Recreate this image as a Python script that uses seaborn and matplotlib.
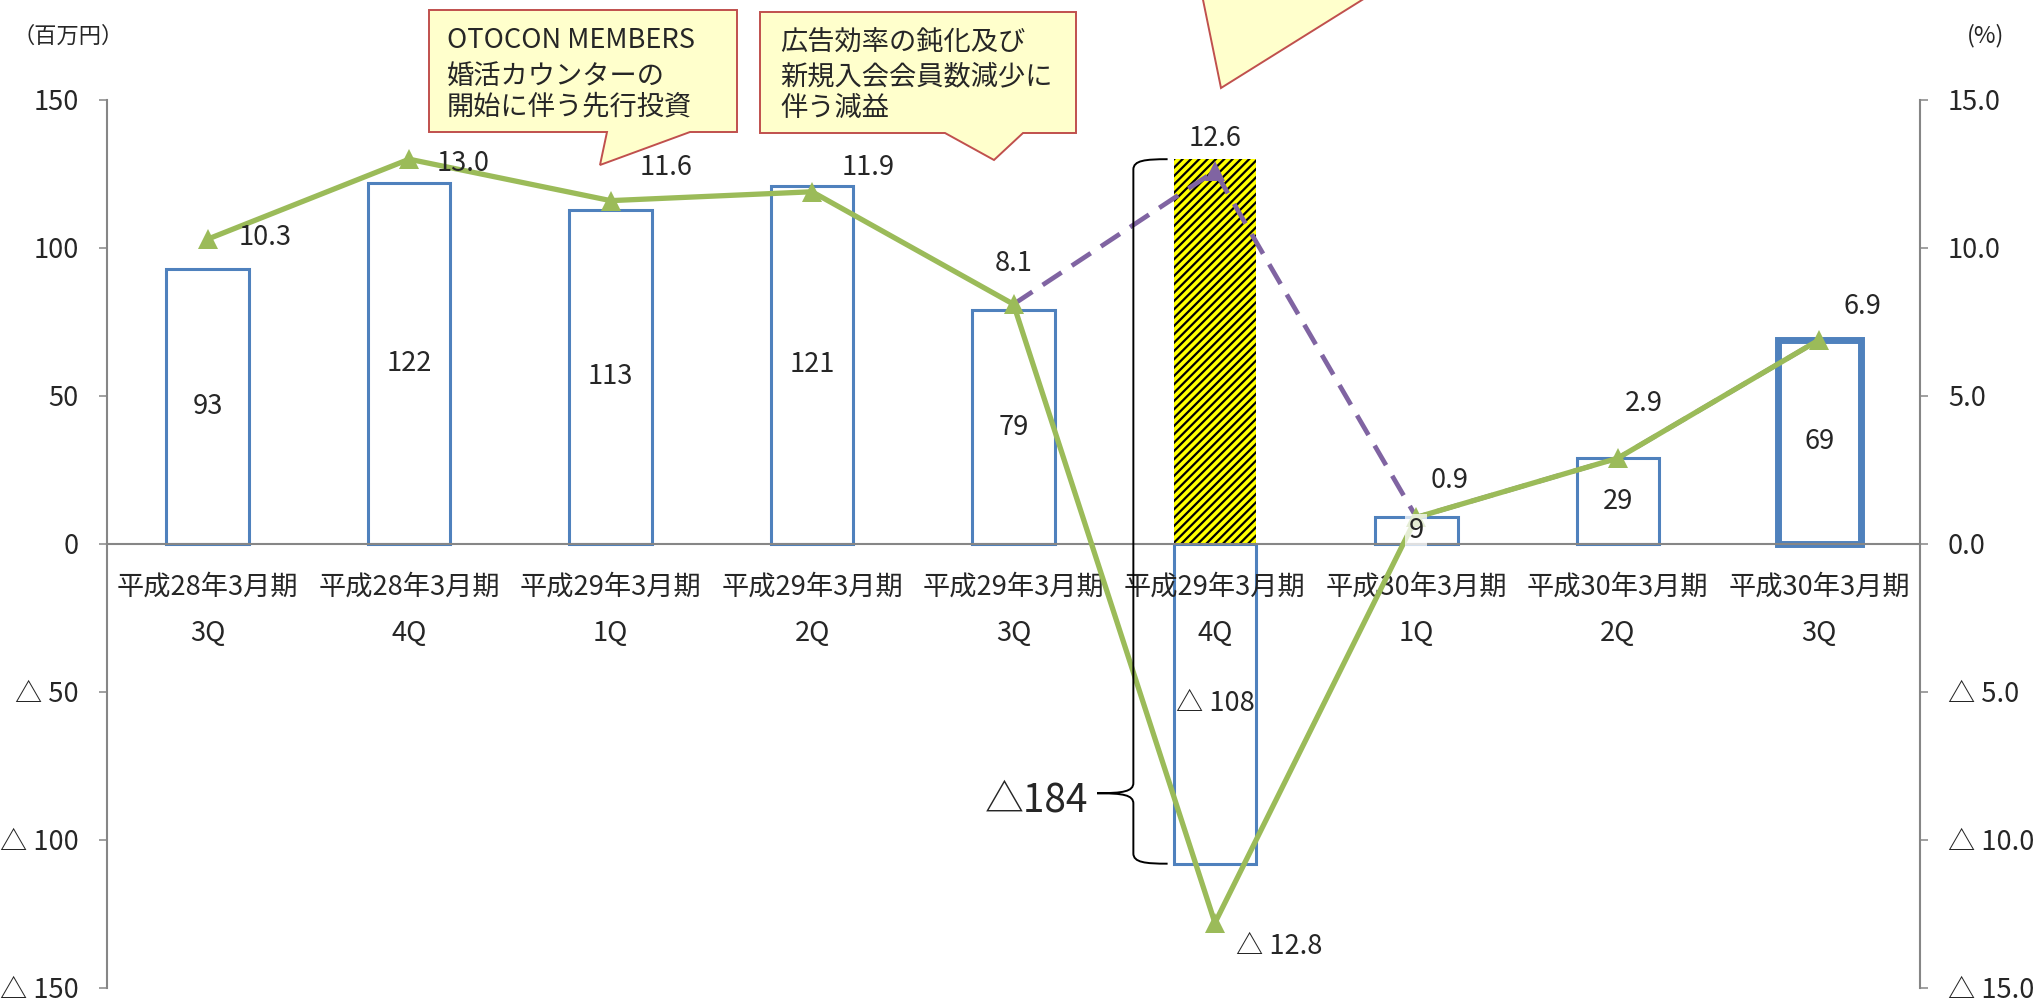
import numpy as np
import pandas as pd
import matplotlib
matplotlib.use("Agg")
import matplotlib.pyplot as plt
import seaborn as sns
from matplotlib.patches import Polygon, PathPatch
from matplotlib.path import Path
from matplotlib.ticker import FuncFormatter

# ---- data -------------------------------------------------------------
periods = ["平成28年3月期", "平成28年3月期", "平成29年3月期", "平成29年3月期",
           "平成29年3月期", "平成29年3月期", "平成30年3月期", "平成30年3月期",
           "平成30年3月期"]
quarters = ["3Q", "4Q", "1Q", "2Q", "3Q", "4Q", "1Q", "2Q", "3Q"]
operating_profit = [93, 122, 113, 121, 79, -108, 9, 29, 69]          # 百万円
adjusted_profit_4q = 130                                             # 4Q before one-off items
margin = [10.3, 13.0, 11.6, 11.9, 8.1, -12.8, 0.9, 2.9, 6.9]          # %
margin_adjusted = [None, None, None, None, 8.1, 12.6, 0.9, 2.9, 6.9]  # %
swing_label = "△184"
note_investment = ["OTOCON MEMBERS", "婚活カウンターの", "開始に伴う先行投資"]
note_decline = ["広告効率の鈍化及び", "新規入会会員数減少に", "伴う減益"]

# ---- style ------------------------------------------------------------
BLUE = "#4F81BD"
GREEN = "#9BBB59"
PURPLE = "#8064A2"
GRAY = "#868686"
NOTE_FACE = "#FFFFCC"
NOTE_EDGE = "#C0504D"
FS = 19.6

sns.set_style("white")
plt.rcParams["font.family"] = ["Noto Sans CJK JP", "DejaVu Sans"]
plt.rcParams["hatch.linewidth"] = 1.6

W, H = 2043, 1000
fig = plt.figure(figsize=(W / 100, H / 100), dpi=100)
ax = fig.add_axes([107 / W, 1 - 988 / H, (1920 - 107) / W, (988 - 100) / H])


def fig_xy(px, py):
    return px / W, 1 - py / H


x_idx = np.arange(len(operating_profit))
bar_w = 0.41
adj_idx = quarters.index("4Q", 2)

# ---- bars (left axis) ---------------------------------------------------
bars_df = pd.DataFrame({"x": x_idx, "profit": operating_profit})
sns.barplot(data=bars_df, x="x", y="profit", native_scale=True, orient="x",
            color="white", saturation=1, edgecolor=BLUE, linewidth=2.2,
            width=bar_w, errorbar=None, ax=ax, zorder=2)
bar_patches = list(ax.patches)
bar_patches[-1].set_linewidth(5)

ax.bar(adj_idx, adjusted_profit_4q, width=bar_w, color="#FFFF00",
       edgecolor="black", linewidth=0, hatch="////", zorder=2)

ax.set_xlim(-0.5, len(x_idx) - 0.5)
ax.set_ylim(-150, 150)
ax.set_yticks(np.arange(-150, 151, 50))
ax.yaxis.set_major_formatter(FuncFormatter(
    lambda v, _: f"△ {abs(v):.0f}" if v < 0 else f"{v:.0f}"))
ax.set_xticks(np.arange(0.5, len(x_idx) - 1, 1))
ax.set_xticklabels([])
ax.set_xlabel("")
ax.set_ylabel("")

for s in ["top", "right"]:
    ax.spines[s].set_visible(False)
ax.spines["left"].set_color(GRAY)
ax.spines["left"].set_linewidth(1.5)
ax.spines["bottom"].set_position(("data", 0))
ax.spines["bottom"].set_color(GRAY)
ax.spines["bottom"].set_linewidth(1.5)
ax.tick_params(axis="y", direction="out", length=5.8, width=1.1, color=GRAY,
               pad=14.4, labelsize=FS)
ax.tick_params(axis="x", direction="out", length=5.8, width=1.1, color=GRAY)

# category labels under the zero line
for i, (p, q) in enumerate(zip(periods, quarters)):
    ax.annotate(p, xy=(i, 0), xytext=(0, -43), textcoords="offset pixels",
                ha="center", va="center", fontsize=FS)
    ax.annotate(q, xy=(i, 0), xytext=(0, -89), textcoords="offset pixels",
                ha="center", va="center", fontsize=FS)

# ---- lines (right axis) -------------------------------------------------
ax2 = ax.twinx()
adj_df = pd.DataFrame({"x": x_idx, "m": margin_adjusted}).dropna()
sns.lineplot(data=adj_df, x="x", y="m", ax=ax2, color=PURPLE, linewidth=3.4,
             linestyle=(0, (4.8, 2.6)), marker="^", markersize=15,
             markeredgewidth=0, markeredgecolor=PURPLE,
             markevery=[list(adj_df["x"]).index(adj_idx)], zorder=3)
sns.lineplot(x=x_idx, y=margin, ax=ax2, color=GREEN, linewidth=3.8,
             marker="^", markersize=15, markeredgewidth=0,
             markeredgecolor=GREEN, zorder=4)

ax2.set_ylim(-15, 15)
ax2.set_yticks(np.arange(-15, 15.1, 5))
ax2.yaxis.set_major_formatter(FuncFormatter(
    lambda v, _: f"△ {abs(v):.1f}" if v < 0 else f"{v:.1f}"))
ax2.set_xlabel("")
ax2.set_ylabel("")
for s in ["top", "left", "bottom"]:
    ax2.spines[s].set_visible(False)
ax2.spines["right"].set_color(GRAY)
ax2.spines["right"].set_linewidth(1.5)
ax2.tick_params(axis="y", direction="out", length=5.8, width=1.1, color=GRAY,
                pad=14.4, labelsize=FS)
ax.set_xlim(-0.5, len(x_idx) - 0.5)

# bar value labels (drawn above the lines)
for i, v in enumerate(operating_profit):
    txt = f"△ {abs(v)}" if v < 0 else f"{v}"
    box = dict(boxstyle="square,pad=0.12", fc="white", ec="none", alpha=0.75) \
        if abs(v) < 15 else None
    ax2.text(i, v / 2, txt, transform=ax.transData, ha="center", va="center",
             fontsize=FS, zorder=8, bbox=box)

# margin labels
label_offsets = [(57, 2), (54, -4), (55, 33), (56, 24), (0, 41),
                 (64, -24), (33, 37), (26, 55), (43, 33)]
for i, (m, off) in enumerate(zip(margin, label_offsets)):
    txt = f"△ {abs(m):.1f}" if m < 0 else f"{m:.1f}"
    ax2.annotate(txt, xy=(i, m), xytext=off, textcoords="offset pixels",
                 ha="center", va="center", fontsize=FS, zorder=9)
m_adj = margin_adjusted[adj_idx]
ax2.annotate(f"{m_adj:.1f}", xy=(adj_idx, m_adj), xytext=(0, 33),
             textcoords="offset pixels", ha="center", va="center",
             fontsize=FS, zorder=9)

# ---- brace spanning the 4Q swing ---------------------------------------
ytop = adjusted_profit_4q
ybot = operating_profit[adj_idx]
ytip = ybot + 0.1 * (ytop - ybot)
xe = adj_idx - bar_w / 2 - 0.03
xv = adj_idx - bar_w / 2 - 0.20
xt = xv - 0.18
M, L, C = Path.MOVETO, Path.LINETO, Path.CURVE4
verts = [
    (xe, ytop),
    (xv + 0.06, ytop), (xv, ytop - 0.4), (xv, ytop - 3.5),
    (xv, ytip + 3.5),
    (xv, ytip + 0.6), (xv - 0.05, ytip), (xt, ytip),
    (xv - 0.05, ytip), (xv, ytip - 0.6), (xv, ytip - 3.5),
    (xv, ybot + 3.5),
    (xv, ybot + 0.4), (xv + 0.06, ybot), (xe, ybot),
]
codes = [M, C, C, C, L, C, C, C, C, C, C, L, C, C, C]
brace = PathPatch(Path(verts, codes), transform=ax.transData, fill=False,
                  edgecolor="black", linewidth=1.4, zorder=6)
ax2.add_patch(brace)
ax2.annotate(swing_label, xy=(xt, ytip), xycoords=ax.transData,
             xytext=(-9, -7), textcoords="offset pixels", ha="right",
             va="center", fontsize=28, zorder=9)

# ---- unit captions -------------------------------------------------------
fig.text(*fig_xy(12, 36), "（百万円）", ha="left", va="center", fontsize=16)
fig.text(*fig_xy(2004, 36), "(%)", ha="right", va="center", fontsize=17)

# ---- callouts --------------------------------------------------------------
def callout(points, lines, text_x, line_ys):
    pts = [fig_xy(px, py) for px, py in points]
    fig.add_artist(Polygon(pts, closed=True, transform=fig.transFigure,
                           facecolor=NOTE_FACE, edgecolor=NOTE_EDGE,
                           linewidth=1.4, zorder=5))
    for line, ly in zip(lines, line_ys):
        fig.text(*fig_xy(text_x, ly), line, ha="left", va="center",
                 fontsize=FS, zorder=6)


callout([(429, 10), (737, 10), (737, 132), (690, 132), (600, 165),
         (607, 132), (429, 132)], note_investment, 447, [41, 76, 107])
callout([(760, 12), (1076, 12), (1076, 133), (1023, 133), (994, 160),
         (945, 133), (760, 133)], note_decline, 780, [42, 77, 108])
# pointer of a note placed above the visible area
fig.add_artist(Polygon([fig_xy(1201, -10), fig_xy(1221, 88), fig_xy(1378, -10)],
                       closed=True, transform=fig.transFigure,
                       facecolor=NOTE_FACE, edgecolor=NOTE_EDGE,
                       linewidth=1.4, zorder=5))

fig.savefig("out.png", dpi=100)
